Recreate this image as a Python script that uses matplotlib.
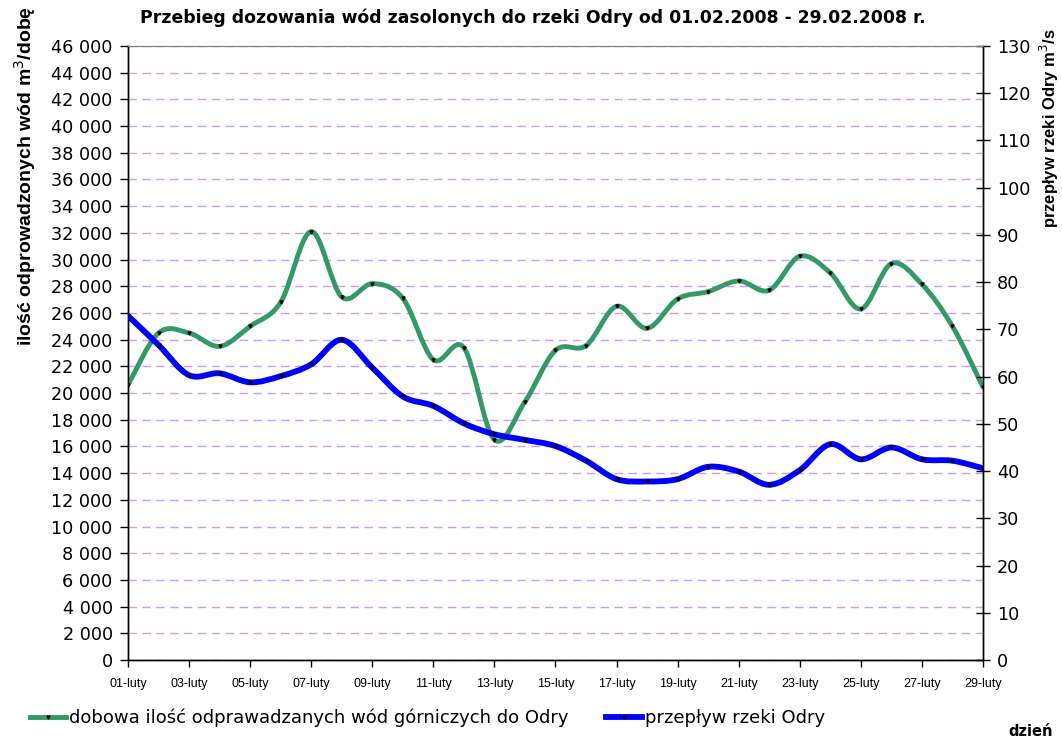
import matplotlib
matplotlib.use('Agg')
import matplotlib.pyplot as plt
from matplotlib.path import Path
from matplotlib.patches import PathPatch
from matplotlib.lines import Line2D
import matplotlib.ticker as mticker

plt.rcParams['font.family'] = ['DejaVu Sans']

# dni lutego 2008
days = list(range(1, 30))
day_labels = ['%02d-luty' % d for d in days]

# dobowa ilosc odprowadzanych wod [m3/dobe]
discharge = [20600, 24500, 24500, 23500, 25000, 26800, 32100, 27200, 28200, 27100,
             22500, 23400, 16500, 19350, 23200, 23550, 26500, 24850, 27050, 27600,
             28400, 27700, 30250, 29000, 26300, 29700, 28150, 25000, 20450]

# przeplyw rzeki Odry [m3/s]
flow = [72.9, 66.7, 60.3, 60.7, 58.8, 60.1, 62.6, 67.8, 61.9, 55.8,
        53.8, 50.1, 47.8, 46.6, 45.3, 42.2, 38.3, 37.8, 38.3, 40.9,
        39.9, 37.1, 40.2, 45.7, 42.5, 45.0, 42.5, 42.2, 40.6]

GREEN = '#339966'
BLUE = '#0000ff'


def smooth_path(xs, ys):
    # wygladzona linia jak w excelu: odcinki catmull-rom jako krzywe beziera
    n = len(xs)
    verts = [(xs[0], ys[0])]
    codes = [Path.MOVETO]
    for i in range(n - 1):
        x0, y0 = (xs[i - 1], ys[i - 1]) if i > 0 else (xs[i], ys[i])
        x1, y1 = xs[i], ys[i]
        x2, y2 = xs[i + 1], ys[i + 1]
        x3, y3 = (xs[i + 2], ys[i + 2]) if i + 2 < n else (x2, y2)
        c1 = (x1 + (x2 - x0) / 6.0, y1 + (y2 - y0) / 6.0)
        c2 = (x2 - (x3 - x1) / 6.0, y2 - (y3 - y1) / 6.0)
        verts += [c1, c2, (x2, y2)]
        codes += [Path.CURVE4] * 3
    return Path(verts, codes)


fig = plt.figure(figsize=(10.62, 7.41), dpi=100)
ax1 = fig.add_axes([0.1205, 0.1093, 0.8051, 0.8286])
ax2 = ax1.twinx()

ax1.set_xlim(1, 29)
ax1.set_ylim(0, 46000)
ax2.set_ylim(0, 130)

ax1.yaxis.set_major_locator(mticker.MultipleLocator(2000))
ax1.yaxis.set_major_formatter(mticker.FuncFormatter(lambda v, p: '{:,.0f}'.format(v).replace(',', ' ')))
ax2.yaxis.set_major_locator(mticker.MultipleLocator(10))
ax1.set_xticks(days[::2])
ax1.set_xticklabels(day_labels[::2], fontsize=9, family='Liberation Sans')

ax1.grid(axis='y', color='#cc99ff', linestyle=(0, (6, 4)), linewidth=1.0, snap=True)
ax1.set_axisbelow(True)

ax1.tick_params(axis='y', labelsize=12.7, direction='out', length=6, width=1, pad=5)
ax2.tick_params(axis='y', labelsize=12.7, direction='inout', length=10, width=1, pad=5)
ax1.tick_params(axis='x', direction='out', length=5, width=1, pad=8)

for ax in (ax1, ax2):
    ax.spines['top'].set_color('#808080')
    ax.spines['left'].set_linewidth(1)
    ax.spines['right'].set_linewidth(1)
    ax.spines['bottom'].set_linewidth(1)

ax1.add_patch(PathPatch(smooth_path(days, discharge), fill=False, edgecolor=GREEN,
                        linewidth=3.5, capstyle='round', joinstyle='round', zorder=3))
ax1.plot(days, discharge, linestyle='none', marker='v', markersize=2.2, color='black', zorder=4)

ax2.add_patch(PathPatch(smooth_path(days, flow), fill=False, edgecolor=BLUE,
                        linewidth=4.2, capstyle='round', joinstyle='round', zorder=3))
ax2.plot(days, flow, linestyle='none', marker='v', markersize=2.2, color='black', zorder=4)

fig.text(0.502, 0.976, 'Przebieg dozowania wód zasolonych do rzeki Odry od 01.02.2008 - 29.02.2008 r.',
         ha='center', va='center', fontsize=12.4, fontweight='bold')
fig.text(0.0235, 0.762, 'ilość odprowadzonych wód m$^{3}$/dobę', rotation=90,
         ha='center', va='center', fontsize=14, fontweight='bold', family='Liberation Sans')
fig.text(0.988, 0.827, 'przepływ rzeki Odry m$^{3}$/s', rotation=90,
         ha='center', va='center', fontsize=12, fontweight='bold', family='Liberation Sans')
fig.text(0.97, 0.003, 'dzień', ha='center', va='bottom', fontsize=10.5, fontweight='bold')

handles = [Line2D([], [], color=GREEN, linewidth=3.5, marker='v', markersize=2.2,
                  markerfacecolor='black', markeredgecolor='black'),
           Line2D([], [], color=BLUE, linewidth=4.2, marker='v', markersize=2.2,
                  markerfacecolor='black', markeredgecolor='black')]
fig.legend(handles, ['dobowa ilość odprawadzanych wód górniczych do Odry', 'przepływ rzeki Odry'],
           loc='center left', bbox_to_anchor=(0.028, 0.031), ncol=2, frameon=False,
           fontsize=13, handlelength=2.0, handletextpad=0.15, columnspacing=2.1,
           borderpad=0, borderaxespad=0)

fig.savefig('out.png', dpi=100)
